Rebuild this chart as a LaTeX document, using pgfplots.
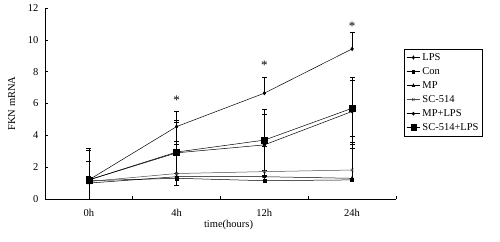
\documentclass[border=0pt]{standalone}
\usepackage{pgfplots}
\pgfplotsset{compat=1.18}
\usepackage{fontspec}
\setmainfont{Liberation Serif}
\begin{document}
\begin{tikzpicture}[x=1pt,y=1pt]
\useasboundingbox (0,0) rectangle (500,241);
\begin{axis}[
  at={(45pt,42pt)}, anchor=south west,
  scale only axis, width=351pt, height=191pt,
  xmin=0, xmax=4, ymin=0, ymax=12,
  axis lines=left, axis line style={-, line width=0.6pt},
  xtick={0.5,1.5,2.5,3.5}, xticklabels={0h,4h,12h,24h},
  major x tick style={draw=none},
  minor xtick={1,2,3,4}, minor tick length=3pt,
  ytick={0,2,4,6,8,10,12}, major tick length=3pt,
  tick align=inside,
  tick style={black, line width=0.5pt},
  xticklabel style={yshift=-7pt},
  yticklabel style={xshift=-3pt},
  font=\fontsize{10.5}{11}\selectfont,
  /pgf/number format/assume math mode=true,
  ylabel={FKN mRNA}, ylabel style={yshift=6pt},
  xlabel={time(hours)}, xlabel style={xshift=8pt, yshift=4pt},
  legend style={at={(1.023,0.785)}, anchor=north west, draw=black, line width=0.5pt,
    font=\fontsize{10.5}{10.5}\selectfont, row sep=1.6pt, inner sep=2pt,
    cells={anchor=west}},
  legend image post style={xscale=0.8},
  legend cell align=left,
  error bars/error bar style={black, line width=0.6pt},
  error bars/error mark options={rotate=90, mark size=2.5pt, black, line width=0.6pt},
]
% LPS
\addplot[black, line width=0.5pt, mark=diamond*, mark size=1.8pt, mark options={fill=black},
  error bars/.cd, y dir=plus, y explicit]
  coordinates {(0.5,1.20) +- (0,1.15) (1.5,4.55) +- (0,0.95) (2.5,6.65) +- (0,1.00) (3.5,9.43) +- (0,1.03)};
\addlegendentry{LPS}
% Con
\addplot[black, line width=0.5pt, mark=square*, mark size=1.6pt, mark options={fill=black},
  error bars/.cd, y dir=plus, y explicit]
  coordinates {(0.5,1.15) +- (0,0.3) (1.5,1.30) +- (0,0.3) (2.5,1.15) +- (0,0.3) (3.5,1.20) +- (0,2.0)};
\addlegendentry{Con}
% MP
\addplot[black, line width=0.5pt, mark=triangle*, mark size=1.8pt, mark options={fill=black},
  error bars/.cd, y dir=plus, y explicit]
  coordinates {(0.5,1.00) +- (0,0.2) (1.5,1.40) +- (0,2.05) (2.5,1.40) +- (0,0.4) (3.5,1.30) +- (0,2.16)};
\addlegendentry{MP}
% SC-514
\addplot[black!70, line width=0.5pt, mark=x, mark size=2pt,
  error bars/.cd, y dir=plus, y explicit]
  coordinates {(0.5,1.10) +- (0,0.3) (1.5,1.60) +- (0,2.00) (2.5,1.72) +- (0,1.60) (3.5,1.82) +- (0,2.10)};
\addlegendentry{SC-514}
% MP+LPS
\addplot[black, line width=0.5pt, mark=*, mark size=1.6pt, mark options={fill=black},
  error bars/.cd, y dir=both, y explicit]
  coordinates {(0.5,1.20) +- (0,1.85) (1.5,2.90) +- (0,2.05) (2.5,3.40) +- (0,1.90) (3.5,5.50) +- (0,1.94)};
\addlegendentry{MP+LPS}
% SC-514+LPS
\addplot[black, line width=0.5pt, mark=square*, mark size=3pt, mark options={fill=black},
  error bars/.cd, y dir=plus, y explicit]
  coordinates {(0.5,1.20) +- (0,2.00) (1.5,2.95) +- (0,1.85) (2.5,3.70) +- (0,1.96) (3.5,5.70) +- (0,1.95)};
\addlegendentry{SC-514+LPS}
\node[font=\fontsize{13}{13}\selectfont] at (axis cs:1.5,6.2) {*};
\node[font=\fontsize{13}{13}\selectfont] at (axis cs:2.5,8.4) {*};
\node[font=\fontsize{13}{13}\selectfont] at (axis cs:3.5,10.85) {*};
\end{axis}
\end{tikzpicture}
\end{document}
